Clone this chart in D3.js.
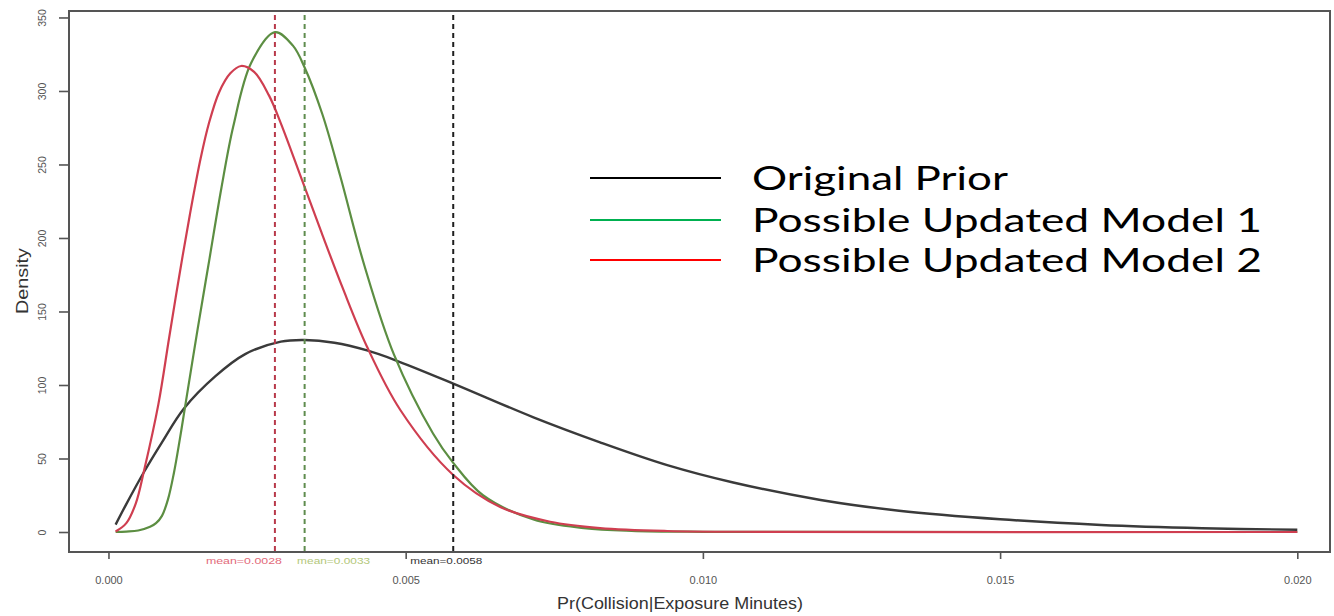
<!DOCTYPE html>
<html>
<head>
<meta charset="utf-8">
<script src="https://cdn.jsdelivr.net/npm/d3@7"></script>
<style>
  html, body { margin: 0; padding: 0; background: #fff; }
  svg { display: block; }
</style>
</head>
<body>
<svg id="chart" width="1334" height="616"></svg>
<script>
// Density curves of Pr(Collision | Exposure Minutes): [x, density] pairs
const priorCurve = [
  [0.00012, 5], [0.0003, 19], [0.0006, 41], [0.0009, 61], [0.00127, 84],
  [0.0018, 106], [0.0023, 121], [0.0029, 129.5], [0.0033, 130.6], [0.0038, 128.7],
  [0.00435, 123.5], [0.00482, 117], [0.0058, 101], [0.00715, 78], [0.00827, 61],
  [0.0094, 45.5], [0.01051, 33.7], [0.01198, 21.8], [0.0133, 14.5], [0.015, 8.7],
  [0.0167, 4.8], [0.0184, 2.6], [0.020, 1.5]
];
const model1Curve = [
  [0.00012, 0], [0.0003, 0.3], [0.0005, 1], [0.0007, 3.5], [0.0008, 6],
  [0.0009, 11], [0.001, 22], [0.0011, 40], [0.0012, 63], [0.0013, 88],
  [0.0015, 138], [0.0017, 186], [0.0019, 234], [0.0021, 276], [0.0024, 319],
  [0.0028, 340], [0.0031, 331], [0.0033, 316], [0.0036, 284], [0.0039, 242],
  [0.0043, 182], [0.0048, 121], [0.00546, 67], [0.0058, 47], [0.0063, 25],
  [0.00715, 8.5], [0.008, 2.7], [0.0088, 0.8], [0.010, 0.15], [0.012, 0.03],
  [0.020, 0]
];
const model2Curve = [
  [0.00012, 0.3], [0.0003, 6], [0.00046, 19.5], [0.0006, 42], [0.00084, 87],
  [0.00102, 132], [0.00119, 174], [0.00137, 216], [0.00155, 254], [0.00169, 278],
  [0.00186, 299], [0.00205, 312], [0.00223, 317], [0.00245, 313], [0.0027, 297],
  [0.0029, 278], [0.00326, 239], [0.0036, 202], [0.00394, 166], [0.00435, 126],
  [0.00491, 83], [0.0058, 38.8], [0.00659, 17], [0.00743, 7], [0.00827, 2.7],
  [0.0094, 0.7], [0.011, 0.1], [0.020, 0]
];

// Posterior / prior means drawn as dashed verticals
const meanValues = [0.0028, 0.0033, 0.0058];
const meanLabels = ["mean=0.0028", "mean=0.0033", "mean=0.0058"];

// Axis ticks
const xTicks = [0, 0.005, 0.010, 0.015, 0.020];
const yTicks = [0, 50, 100, 150, 200, 250, 300, 350];

// Legend entries
const legendLabels = ["Original Prior", "Possible Updated Model 1", "Possible Updated Model 2"];

const svg = d3.select("#chart");

// plot box
const box = { left: 69, right: 1330, top: 11, bottom: 552 };

const x = d3.scaleLinear().domain([-0.000664, 0.02055]).range([box.left, box.right]);
const y = d3.scaleLinear().domain([-13.6, 354.4]).range([box.bottom, box.top]);

const line = d3.line()
  .x(d => x(d[0]))
  .y(d => y(Math.max(0, d[1])))
  .curve(d3.curveCatmullRom.alpha(0.5));

// curves: prior first, then the two updated models
const curves = [
  { data: priorCurve, color: "#3a3a3a", width: 2.4 },
  { data: model1Curve, color: "#5c8e42", width: 2.2 },
  { data: model2Curve, color: "#cf3e50", width: 2.2 }
];
svg.append("g").selectAll("path")
  .data(curves)
  .join("path")
  .attr("d", d => line(d.data))
  .attr("fill", "none")
  .attr("stroke", d => d.color)
  .attr("stroke-width", d => d.width)
  .attr("stroke-linejoin", "round");

// dashed mean lines
const meanColors = ["#b8394a", "#5f8c4e", "#1e1e1e"];
svg.append("g").selectAll("line")
  .data(meanValues)
  .join("line")
  .attr("x1", d => x(d)).attr("x2", d => x(d))
  .attr("y1", box.top + 4).attr("y2", box.bottom)
  .attr("stroke", (d, i) => meanColors[i])
  .attr("stroke-width", 2)
  .attr("stroke-dasharray", "5,4");

// mean annotations just under the plot frame
const meanLabelSpec = [
  { anchor: "end", dx: 7, len: 76, color: "#e26a7a" },
  { anchor: "start", dx: -7.5, len: 73, color: "#b3c77a" },
  { anchor: "start", dx: -43, len: 72, color: "#333333" }
];
svg.append("g").selectAll("text")
  .data(meanValues)
  .join("text")
  .attr("x", (d, i) => x(d) + meanLabelSpec[i].dx)
  .attr("y", 564)
  .attr("text-anchor", (d, i) => meanLabelSpec[i].anchor)
  .attr("font-family", "Liberation Sans, Arial, sans-serif")
  .attr("font-size", 9.5)
  .attr("textLength", (d, i) => meanLabelSpec[i].len)
  .attr("lengthAdjust", "spacingAndGlyphs")
  .attr("fill", (d, i) => meanLabelSpec[i].color)
  .text((d, i) => meanLabels[i]);

// frame
svg.append("rect")
  .attr("x", box.left).attr("y", box.top)
  .attr("width", box.right - box.left).attr("height", box.bottom - box.top)
  .attr("fill", "none")
  .attr("stroke", "#555")
  .attr("stroke-width", 2);

// y axis with rotated labels
const yAxis = svg.append("g")
  .attr("transform", `translate(${box.left},0)`)
  .call(d3.axisLeft(y).tickValues(yTicks).tickSize(10).tickFormat(d3.format("d")));
yAxis.select(".domain").remove();
yAxis.selectAll(".tick line").attr("stroke", "#555").attr("stroke-width", 1.6);
yAxis.selectAll(".tick text")
  .attr("transform", "rotate(-90)")
  .attr("x", 0).attr("y", -23.5).attr("dy", null)
  .attr("text-anchor", "middle")
  .attr("font-family", "Liberation Sans, Arial, sans-serif")
  .attr("font-size", 10.5)
  .attr("fill", "#555");

// x axis
const xAxis = svg.append("g")
  .attr("transform", `translate(0,${box.bottom})`)
  .call(d3.axisBottom(x).tickValues(xTicks).tickSize(7).tickFormat(d3.format(".3f")));
xAxis.select(".domain").remove();
xAxis.selectAll(".tick line").attr("stroke", "#555").attr("stroke-width", 1.6);
xAxis.selectAll(".tick text")
  .attr("y", 32).attr("dy", null)
  .attr("font-family", "Liberation Sans, Arial, sans-serif")
  .attr("font-size", 11)
  .attr("fill", "#555");

// axis titles
svg.append("text")
  .attr("x", 680).attr("y", 609)
  .attr("text-anchor", "middle")
  .attr("font-family", "Liberation Sans, Arial, sans-serif")
  .attr("font-size", 17)
  .attr("textLength", 246)
  .attr("lengthAdjust", "spacingAndGlyphs")
  .attr("fill", "#333")
  .text("Pr(Collision|Exposure Minutes)");

svg.append("text")
  .attr("transform", "translate(28,281) rotate(-90)")
  .attr("text-anchor", "middle")
  .attr("font-family", "Liberation Sans, Arial, sans-serif")
  .attr("font-size", 16)
  .attr("textLength", 66)
  .attr("lengthAdjust", "spacingAndGlyphs")
  .attr("fill", "#333")
  .text("Density");

// legend
const legendColors = ["#000000", "#00b050", "#ff0000"];
const legendRows = [178, 220, 260];
const legendWidths = [256, 510, 510];
const legend = svg.append("g");
legend.selectAll("line")
  .data(legendLabels)
  .join("line")
  .attr("x1", 590).attr("x2", 721)
  .attr("y1", (d, i) => legendRows[i]).attr("y2", (d, i) => legendRows[i])
  .attr("stroke", (d, i) => legendColors[i])
  .attr("stroke-width", 2);
legend.selectAll("text")
  .data(legendLabels)
  .join("text")
  .attr("x", 752)
  .attr("y", (d, i) => legendRows[i] + 12)
  .attr("font-family", "Lato, Carlito, sans-serif")
  .attr("font-size", 33)
  .attr("textLength", (d, i) => legendWidths[i])
  .attr("lengthAdjust", "spacingAndGlyphs")
  .attr("fill", "#000")
  .text(d => d);
</script>
</body>
</html>
